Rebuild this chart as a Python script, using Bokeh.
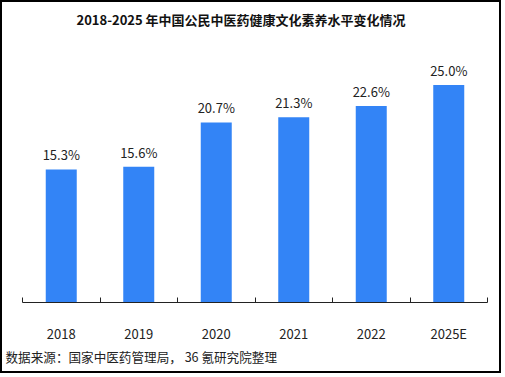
from bokeh.plotting import figure
from bokeh.models import ColumnDataSource, FixedTicker, Range1d, Title
from bokeh.core.properties import value
from bokeh.embed import file_html
from bokeh.resources import INLINE

years = ["2018", "2019", "2020", "2021", "2022", "2025E"]
values = [15.3, 15.6, 20.7, 21.3, 22.6, 25.0]
labels = [f"{v:.1f}%" for v in values]
title_text = "2018-2025 年中国公民中医药健康文化素养水平变化情况"
source_text = "数据来源：国家中医药管理局， 36 氪研究院整理"

FONT = "Noto Sans CJK SC"
BAR = "#3384F6"

xs = [i + 0.5 for i in range(len(years))]
src = ColumnDataSource(dict(x=xs, top=values, label=labels))

p = figure(width=501, height=373, output_backend="svg", toolbar_location=None,
           x_range=Range1d(0, len(years)), y_range=Range1d(0, 30.7),
           min_border_left=20, min_border_right=16, min_border_top=0, min_border_bottom=73,
           outline_line_color=None, background_fill_color="white", border_fill_color="white")
p.styles = {"border": "2px solid black"}

p.vbar(x="x", top="top", width=0.4, bottom=0, source=src, fill_color=BAR, line_color=None)
p.text(x="x", y="top", text="label", source=src, text_align="center", text_baseline="bottom",
       y_offset=-5, text_font=value(FONT), text_font_size="13px", text_color="#222222")

p.yaxis.visible = False
p.grid.visible = False

ax = p.xaxis[0]
ax.ticker = FixedTicker(ticks=xs, minor_ticks=list(range(len(years) + 1)))
ax.major_label_overrides = {x: y for x, y in zip(xs, years)}
ax.major_tick_line_color = None
ax.minor_tick_in = 5
ax.minor_tick_out = 0
ax.minor_tick_line_color = "#222222"
ax.axis_line_color = "#222222"
ax.major_label_standoff = 15
ax.major_label_text_font = FONT
ax.major_label_text_font_size = "13px"
ax.major_label_text_color = "#222222"

p.add_layout(Title(text=title_text, align="left", offset=54, vertical_align="middle", standoff=12,
                   text_font=FONT, text_font_size="13px", text_font_style="bold",
                   text_color="#111111"), "above")

p.add_layout(Title(text=source_text, align="left", text_font=FONT, text_font_size="12.6px",
                   text_font_style="normal", text_color="#222222", offset=-17,
                   vertical_align="middle", standoff=0), "below")

open("out.html", "w").write(file_html(p, INLINE))
